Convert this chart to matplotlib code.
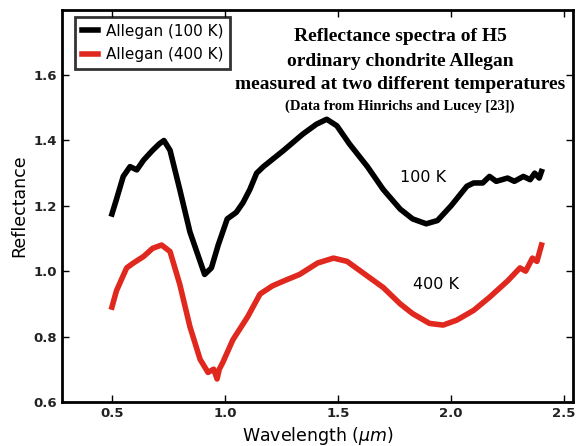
import matplotlib.pyplot as plt

# Allegan (100 K)
wl_100 = [0.50, 0.52, 0.55, 0.58, 0.61, 0.64, 0.68, 0.71, 0.73, 0.757, 0.80, 0.845,
          0.89, 0.91, 0.925, 0.94, 0.97, 1.01, 1.05, 1.08, 1.11, 1.14, 1.17, 1.26,
          1.345, 1.405, 1.45, 1.495, 1.55, 1.63, 1.70, 1.775, 1.83, 1.89, 1.94,
          2.00, 2.07, 2.10, 2.14, 2.17, 2.20, 2.25, 2.28, 2.32, 2.35, 2.37, 2.39, 2.40]
refl_100 = [1.175, 1.22, 1.29, 1.32, 1.31, 1.34, 1.37, 1.39, 1.40, 1.37, 1.25, 1.12,
            1.03, 0.99, 1.00, 1.01, 1.08, 1.16, 1.18, 1.21, 1.25, 1.30, 1.32, 1.37,
            1.42, 1.45, 1.465, 1.445, 1.39, 1.32, 1.25, 1.19, 1.16, 1.145, 1.155,
            1.20, 1.26, 1.27, 1.27, 1.29, 1.275, 1.285, 1.275, 1.29, 1.28, 1.30, 1.285, 1.305]

# Allegan (400 K)
wl_400 = [0.50, 0.52, 0.565, 0.595, 0.64, 0.68, 0.72, 0.757, 0.80, 0.845, 0.89,
          0.925, 0.95, 0.965, 0.975, 0.99, 1.035, 1.10, 1.155, 1.21, 1.26, 1.33,
          1.41, 1.48, 1.54, 1.61, 1.70, 1.775, 1.83, 1.905, 1.965, 2.025, 2.10,
          2.17, 2.25, 2.305, 2.33, 2.36, 2.38, 2.40]
refl_400 = [0.89, 0.94, 1.01, 1.025, 1.045, 1.07, 1.08, 1.06, 0.96, 0.83, 0.73,
            0.69, 0.70, 0.67, 0.70, 0.72, 0.79, 0.86, 0.93, 0.955, 0.97, 0.99,
            1.025, 1.04, 1.03, 0.995, 0.95, 0.90, 0.87, 0.84, 0.835, 0.85, 0.88,
            0.92, 0.97, 1.01, 1.00, 1.04, 1.03, 1.08]

xticks = [0.5, 1.0, 1.5, 2.0, 2.5]
yticks = [0.6, 0.8, 1.0, 1.2, 1.4, 1.6]

fig = plt.figure(figsize=(5.76, 4.46), dpi=100)
ax = fig.add_axes([0.108, 0.099, 0.887, 0.879])

ax.plot(wl_100, refl_100, color="black", lw=4, label="Allegan (100 K)")
ax.plot(wl_400, refl_400, color="#e0281e", lw=4, label="Allegan (400 K)")

ax.set_xlim(0.28, 2.54)
ax.set_ylim(0.6, 1.8)
ax.set_xticks(xticks)
ax.set_yticks(yticks)
ax.tick_params(direction="in", top=True, right=True, length=5, width=1,
               labelsize=9.5)
for lab in ax.get_xticklabels() + ax.get_yticklabels():
    lab.set_fontweight("bold")
    lab.set_color("#222222")
for s in ax.spines.values():
    s.set_linewidth(2)

ax.set_xlabel(r"Wavelength ($\mu m$)", fontsize=12.5)
ax.set_ylabel("Reflectance", fontsize=12.5)

ax.text(1.774, 1.288, "100 K", fontsize=11.5, va="center")
ax.text(1.83, 0.96, "400 K", fontsize=11.5, va="center")

serif = dict(family="Liberation Serif", weight="bold", ha="center", va="center")
tx = 1.774
ax.text(tx, 1.718, "Reflectance spectra of H5", fontsize=14, **serif)
ax.text(tx, 1.643, "ordinary chondrite Allegan", fontsize=14, **serif)
ax.text(tx, 1.570, "measured at two different temperatures", fontsize=14, **serif)
ax.text(tx, 1.505, "(Data from Hinrichs and Lucey [23])", fontsize=10.5, **serif)

leg = ax.legend(loc="upper left", bbox_to_anchor=(0.025, 0.982), fontsize=11,
                handlelength=1.05, fancybox=False, edgecolor="black",
                borderaxespad=0.0, handletextpad=0.5, borderpad=0.45,
                labelspacing=0.55)
leg.get_frame().set_linewidth(2)

plt.savefig("out.png", dpi=100)
